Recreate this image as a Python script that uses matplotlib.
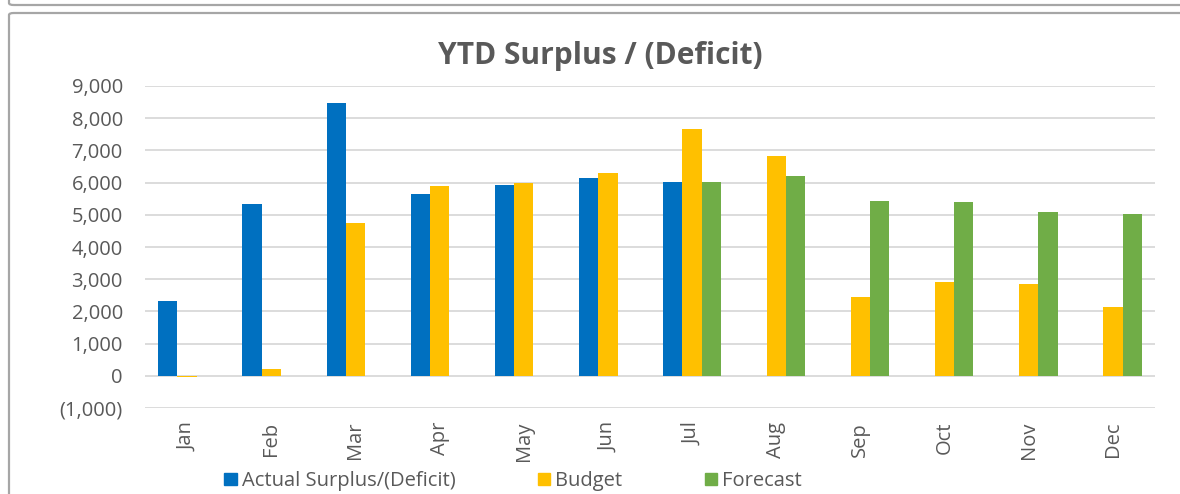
import numpy as np
import matplotlib
matplotlib.use("Agg")
import matplotlib.pyplot as plt
import matplotlib.patches as mpatches
from matplotlib.ticker import FuncFormatter, MultipleLocator

months = ["Jan", "Feb", "Mar", "Apr", "May", "Jun",
          "Jul", "Aug", "Sep", "Oct", "Nov", "Dec"]
actual = [2330, 5320, 8460, 5640, 5920, 6130, 6010,
          np.nan, np.nan, np.nan, np.nan, np.nan]
budget = [-30, 220, 4730, 5890, 5990, 6300, 7680, 6840, 2440, 2900, 2850, 2140]
forecast = [np.nan, np.nan, np.nan, np.nan, np.nan, np.nan,
            6010, 6200, 5430, 5390, 5080, 5040]

series_names = ["Actual Surplus/(Deficit)", "Budget", "Forecast"]
colors = ["#0070C0", "#FFC000", "#70AD47"]

plt.rcParams['font.family'] = ['Open Sans', 'DejaVu Sans']
txt_color = "#595959"

fig = plt.figure(figsize=(11.8, 4.94), dpi=100)
ax = fig.add_axes([145 / 1180, 1 - 408 / 494, 1010 / 1180, 322 / 494])

x = np.arange(len(months))
w = 0.228
for i, (vals, c) in enumerate(zip([actual, budget, forecast], colors)):
    ax.bar(x + (i - 1) * w, vals, width=w, color=c, zorder=3)

ax.set_xlim(-0.5, len(months) - 0.5)
ax.set_ylim(-1000, 9000)
ax.yaxis.set_major_locator(MultipleLocator(1000))
ax.yaxis.set_major_formatter(FuncFormatter(
    lambda v, p: "0" if v == 0 else (f"{v:,.0f}" if v > 0 else f"({-v:,.0f})")))
ax.grid(axis='y', color="#D9D9D9", linewidth=1.3, zorder=0)
for s in ax.spines.values():
    s.set_visible(False)
ax.set_xticks(x)
ax.set_xticklabels(months, rotation=90)
ax.tick_params(axis='both', length=0, labelsize=14.5, labelcolor=txt_color)
ax.tick_params(axis='y', pad=16)
ax.tick_params(axis='x', pad=10)

fig.text(600 / 1180, 1 - 56 / 494, "YTD Surplus / (Deficit)", ha='center', va='center',
         fontsize=21.5, fontweight='bold', color=txt_color)

handles = [mpatches.Patch(color=c, label=n) for c, n in zip(colors, series_names)]
fig.legend(handles=handles, loc='center', bbox_to_anchor=(513 / 1180, 1 - 481 / 494),
           ncol=3, frameon=False, fontsize=14.5, labelcolor=txt_color,
           handlelength=0.6, handleheight=0.6, handletextpad=0.25, columnspacing=4.1,
           borderpad=0.1)

# chart border and the bottom of the box above it
fig.patches.append(mpatches.FancyBboxPatch(
    (9 / 1180, -0.1), 1.2, 1 - 13 / 494 + 0.1, boxstyle="round,pad=0,rounding_size=0.004",
    transform=fig.transFigure, fill=False, edgecolor="#A6A6A6", linewidth=1.6))
fig.patches.append(mpatches.FancyBboxPatch(
    (9 / 1180, 1 - 5 / 494), 1.2, 0.2, boxstyle="round,pad=0,rounding_size=0.004",
    transform=fig.transFigure, fill=False, edgecolor="#A6A6A6", linewidth=1.6))

fig.savefig("out.png", dpi=100)
